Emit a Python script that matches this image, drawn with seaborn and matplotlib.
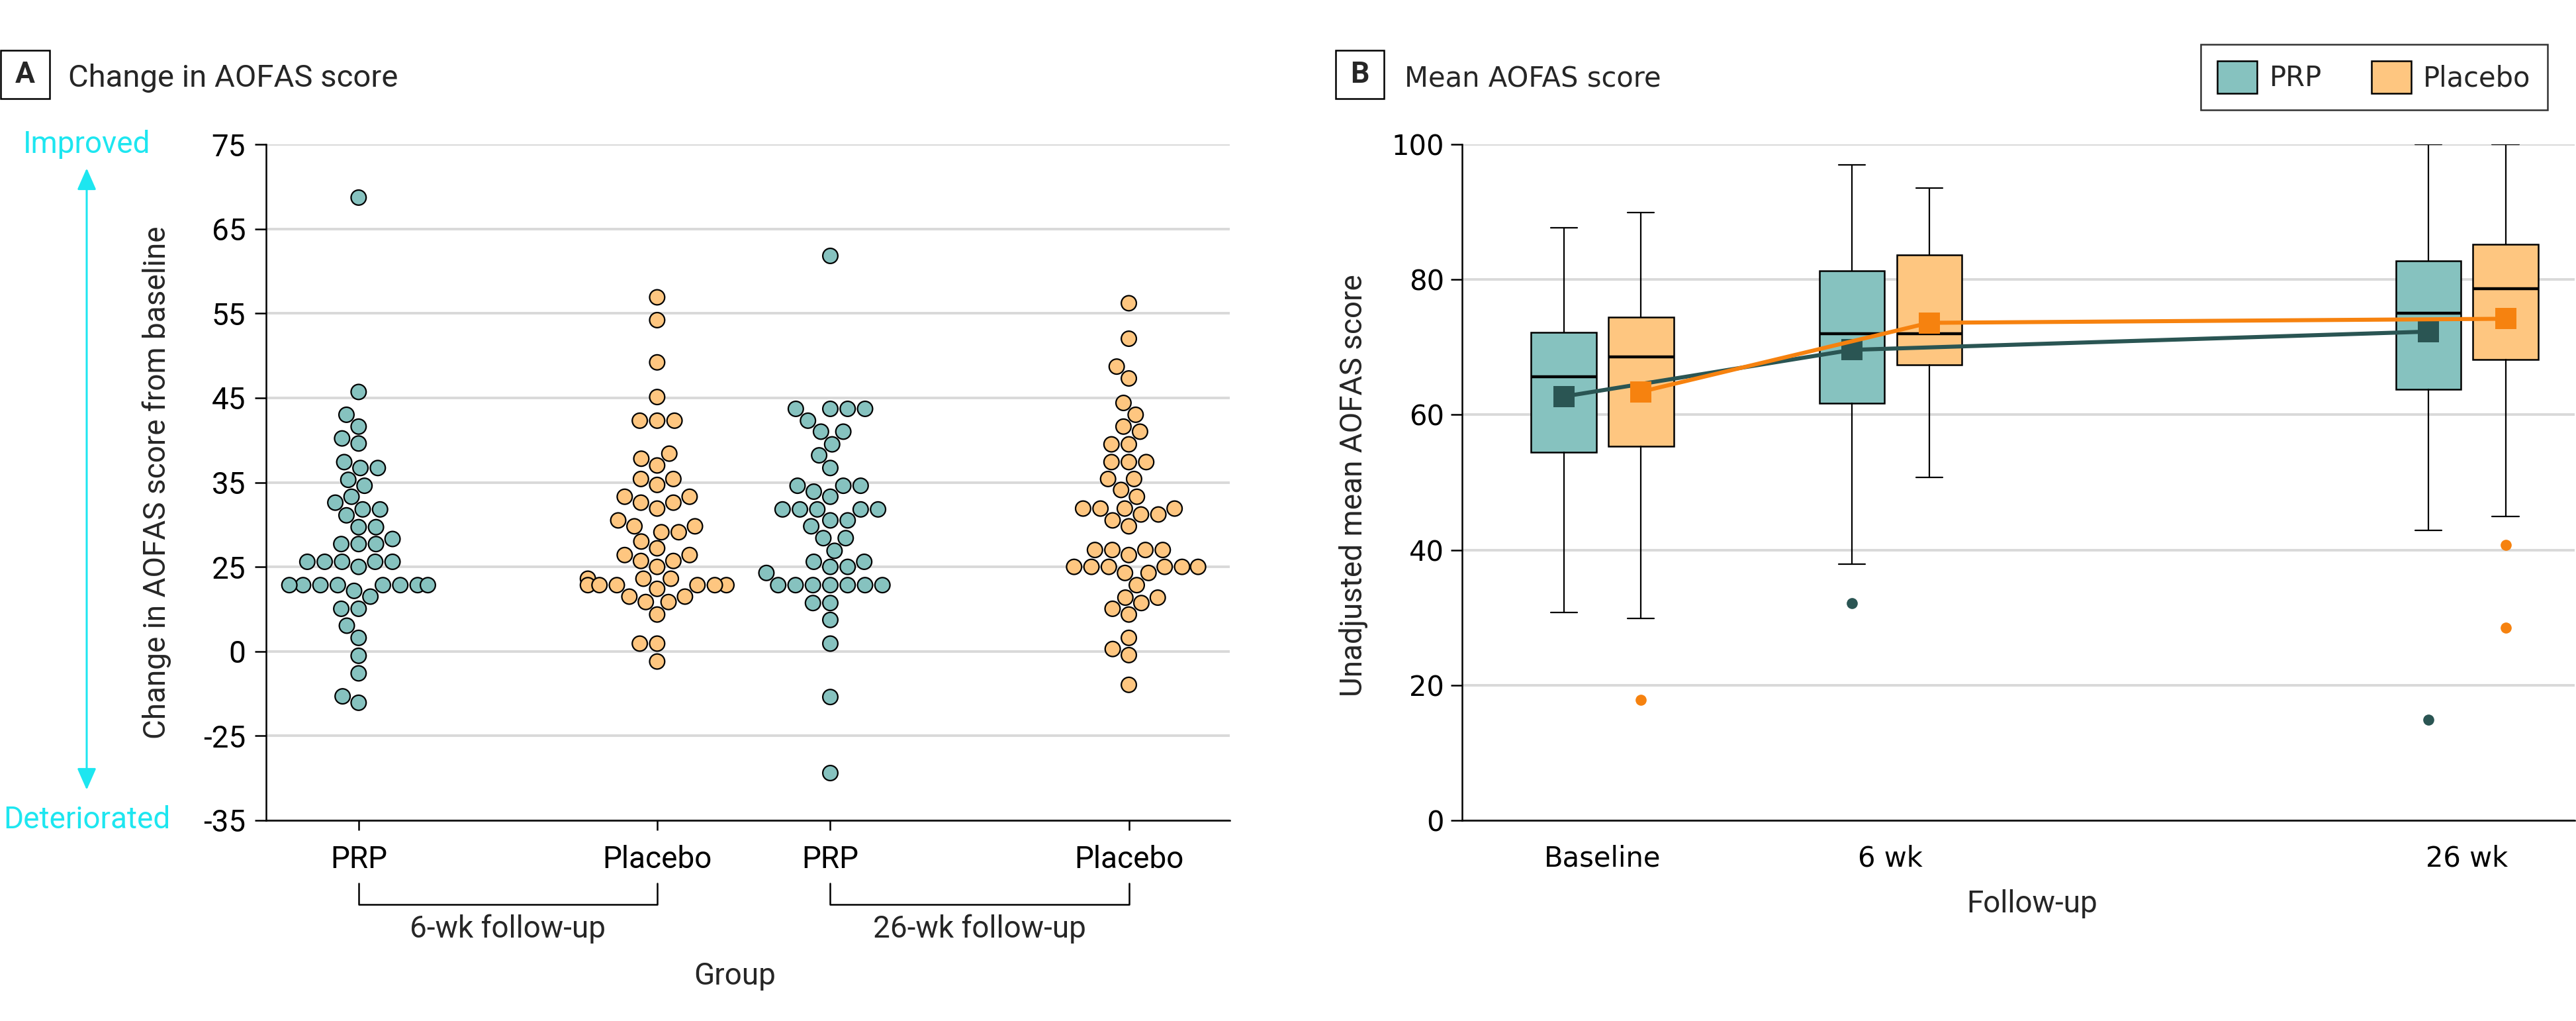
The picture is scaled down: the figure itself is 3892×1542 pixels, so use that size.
import numpy as np
import pandas as pd
import matplotlib
matplotlib.use("Agg")
import matplotlib.pyplot as plt
import matplotlib.transforms as mtransforms
from matplotlib.patches import Patch, Rectangle, FancyArrowPatch
import seaborn as sns

# ---------------- Panel A data (change in AOFAS score) ----------------
groups_a = ["PRP", "Placebo", "PRP", "Placebo"]
xpos_a = [0.0, 1.0, 1.58, 2.58]
followups_a = ["6-wk follow-up", "26-wk follow-up"]
ytick_vals_a = [-35, -25, 0, 25, 35, 45, 55, 65, 75]

chg_prp_6wk = [68.7, 45.7, 43.0, 41.6, 40.2, 39.6, 37.4, 36.7, 36.7, 35.3, 34.6,
               33.3, 32.6, 31.8, 31.8, 31.1, 29.7, 29.7, 28.3, 27.7, 27.7, 27.7,
               25.6, 25.6, 25.6, 25.6, 25.6, 25.0,
               19.6, 19.6, 19.6, 19.6, 19.6, 19.6, 19.6, 19.6,
               17.9, 16.2, 12.6, 12.6, 7.6, 4.0, -1.3, -6.5, -13.3, -15.2]
chg_plc_6wk = [56.9, 54.2, 49.2, 45.1, 42.3, 42.3, 42.3, 38.4, 37.8, 37.0,
               35.4, 35.4, 34.7, 33.3, 33.3, 32.6, 32.6, 31.9, 30.5, 29.8, 29.8,
               29.1, 29.1, 28.0, 27.2, 26.4, 26.4, 25.7, 25.7, 25.0,
               21.5, 21.5, 21.5, 19.6, 19.6, 19.6, 19.6, 19.6, 19.6, 18.5,
               16.2, 16.2, 14.6, 14.6, 10.9, 2.3, 2.3, -3.0]
chg_prp_26wk = [61.8, 43.7, 43.7, 43.7, 43.7, 42.3, 41.0, 41.0, 39.5, 38.2, 36.7,
                34.6, 34.6, 34.6, 33.9, 33.3, 31.8, 31.8, 31.8, 31.8, 31.8,
                30.5, 30.5, 29.8, 28.4, 28.4, 26.9, 25.6, 25.6, 25.0, 25.0, 23.2,
                19.6, 19.6, 19.6, 19.6, 19.6, 19.6, 19.6,
                14.3, 14.3, 9.3, 2.3, -13.5, -29.4]
chg_plc_26wk = [56.2, 52.0, 48.7, 47.3, 44.4, 43.0, 41.6, 41.0, 39.5, 39.5,
                37.4, 37.4, 37.4, 35.4, 35.4, 34.1, 33.3, 31.9, 31.9, 31.9, 31.9,
                31.2, 31.2, 30.5, 29.8, 27.0, 27.0, 27.0, 27.0, 26.4,
                25.0, 25.0, 25.0, 25.0, 25.0, 25.0, 23.2, 23.2, 19.6,
                15.9, 15.9, 14.3, 12.6, 10.9, 4.0, 0.7, -1.1, -9.9]

# ---------------- Panel B data (box plot summaries) ----------------
timepoints = ["Baseline", "6 wk", "26 wk"]
tpos = [0, 1, 3]
prp_whislo = [30.8, 37.9, 42.9]
prp_q1 = [54.5, 61.7, 63.8]
prp_med = [65.6, 72.0, 75.0]
prp_q3 = [72.2, 81.3, 82.8]
prp_whishi = [87.7, 97.0, 100.0]
prp_mean = [62.7, 69.6, 72.3]
prp_fliers = [[], [32.1], [14.9]]

plc_whislo = [29.9, 50.7, 45.0]
plc_q1 = [55.3, 67.4, 68.2]
plc_med = [68.6, 72.0, 78.6]
plc_q3 = [74.4, 83.6, 85.2]
plc_whishi = [89.9, 93.5, 100.0]
plc_mean = [63.4, 73.6, 74.2]
plc_fliers = [[17.8], [], [40.7, 28.5]]

# ---------------- style ----------------
TEAL = "#86C2BF"
ORANGE = "#FEC680"
DARK_TEAL = "#2A5553"
DARK_ORANGE = "#F6820F"
CYAN = "#1DE6F0"
GRID = "#D9D9D9"
MAIN_FONT = ["Roboto", "DejaVu Sans"]
ALT_FONT = ["DejaVu Sans"]

sns.set_style("white")
plt.rcParams["font.family"] = MAIN_FONT

W, H = 3892, 1542
DPI = 200
fig = plt.figure(figsize=(W / DPI, H / DPI), dpi=DPI)


def fx(px):
    return px / W


def fy(py):
    return 1 - py / H


axA = fig.add_axes([fx(402), fy(1239), fx(1858) - fx(402), fy(218) - fy(1239)])
axB = fig.add_axes([fx(2209), fy(1239), fx(3890) - fx(2209), fy(218) - fy(1239)])

# piecewise-linear y scale matching the original labels
_kv = np.array([-35.0, -25.0, 0.0, 25.0, 75.0])
_kp = np.array([0.0, 1.0, 2.0, 3.0, 8.0])


def fwd(v):
    v = np.asarray(v, dtype=float)
    p = np.interp(v, _kv, _kp)
    p = np.where(v < -35, (v + 35) / 10.0, p)
    p = np.where(v > 75, 8 + (v - 75) / 10.0, p)
    return p


def inv(p):
    p = np.asarray(p, dtype=float)
    v = np.interp(p, _kp, _kv)
    v = np.where(p < 0, -35 + p * 10.0, v)
    v = np.where(p > 8, 75 + (p - 8) * 10.0, v)
    return v


# ---------------- Panel A ----------------
rows = []
for x, g, vals in zip(xpos_a, groups_a, [chg_prp_6wk, chg_plc_6wk, chg_prp_26wk, chg_plc_26wk]):
    for v in vals:
        rows.append((x, g, v))
df_a = pd.DataFrame(rows, columns=["pos", "group", "change"])

axA.set_yscale("function", functions=(fwd, inv))
sns.swarmplot(data=df_a, x="pos", y="change", hue="group", native_scale=True, orient="x",
              palette={"PRP": TEAL, "Placebo": ORANGE}, size=8.2, edgecolor="black",
              linewidth=0.8, legend=False, ax=axA, zorder=3)
axA.set_ylim(-35, 75)
axA.set_xlim(-0.31, 2.918)
axA.set_yticks(ytick_vals_a)
axA.set_yticklabels([str(v) for v in ytick_vals_a])
axA.yaxis.set_minor_locator(matplotlib.ticker.NullLocator())
axA.set_xticks(xpos_a)
axA.set_xticklabels(groups_a)
axA.set_xlabel("")
axA.set_ylabel("")
axA.yaxis.grid(True, color=GRID, lw=1.4)
axA.xaxis.grid(False)
axA.set_axisbelow(True)
for s in ["top", "right"]:
    axA.spines[s].set_visible(False)
for s in ["left", "bottom"]:
    axA.spines[s].set_color("black")
    axA.spines[s].set_linewidth(0.9)
axA.tick_params(axis="y", left=True, length=6.1, width=0.9, pad=5, labelsize=16.5, colors="black")
axA.tick_params(axis="x", bottom=True, length=5.4, width=0.9, pad=8, labelsize=16.5, colors="black")

# brackets under the groups
trA = mtransforms.blended_transform_factory(axA.transData, fig.transFigure)
for i, lab in enumerate(followups_a):
    xa, xb = xpos_a[2 * i], xpos_a[2 * i + 1]
    axA.plot([xa, xa, xb, xb], [fy(1334), fy(1366), fy(1366), fy(1334)], transform=trA,
             color="black", lw=0.9, clip_on=False)
    axA.text((xa + xb) / 2, fy(1403), lab, transform=trA, ha="center", va="center",
             fontsize=16.5)
fig.text(fx(1110), fy(1474), "Group", ha="center", va="center", fontsize=16.5)
fig.text(fx(237), fy(729), "Change in AOFAS score from baseline", rotation=90,
         ha="center", va="center", fontsize=16.5)

# improved / deteriorated
fig.text(fx(131), fy(218), "Improved", color=CYAN, ha="center", va="center", fontsize=16.5)
fig.text(fx(131), fy(1238), "Deteriorated", color=CYAN, ha="center", va="center", fontsize=16.5)
arr = FancyArrowPatch(posA=(fx(131), fy(254)), posB=(fx(131), fy(1193)), transform=fig.transFigure,
                      arrowstyle="<|-|>,head_length=0.5,head_width=0.22", mutation_scale=20,
                      color=CYAN, lw=1.1, shrinkA=0, shrinkB=0)
fig.add_artist(arr)

# panel label A
fig.add_artist(Rectangle((fx(1), fy(149)), fx(74), fy(76) - fy(149), transform=fig.transFigure,
                         fill=False, ec="black", lw=0.9))
fig.text(fx(38), fy(113), "A", ha="center", va="center", fontsize=16, fontweight="bold")
fig.text(fx(103), fy(131), "Change in AOFAS score", ha="left", va="baseline", fontsize=17)

# ---------------- Panel B ----------------
OFF = 0.134
BW = 0.226


def make_stats(lo, q1, med, q3, hi, fl):
    return [dict(whislo=a, q1=b, med=c, q3=d, whishi=e, fliers=f)
            for a, b, c, d, e, f in zip(lo, q1, med, q3, hi, fl)]


for stats, off, fc, dc in [
    (make_stats(prp_whislo, prp_q1, prp_med, prp_q3, prp_whishi, prp_fliers), -OFF, TEAL, DARK_TEAL),
    (make_stats(plc_whislo, plc_q1, plc_med, plc_q3, plc_whishi, plc_fliers), OFF, ORANGE, DARK_ORANGE),
]:
    axB.bxp(stats, positions=[t + off for t in tpos], widths=BW, patch_artist=True,
            showfliers=True, manage_ticks=False, capwidths=0.092,
            boxprops=dict(facecolor=fc, edgecolor="black", lw=0.9),
            medianprops=dict(color="black", lw=1.6),
            whiskerprops=dict(color="black", lw=0.8),
            capprops=dict(color="black", lw=0.8),
            flierprops=dict(marker="o", markerfacecolor=dc, markeredgecolor="none", markersize=6))

df_b = pd.DataFrame({
    "pos": [t - OFF for t in tpos] + [t + OFF for t in tpos],
    "mean": prp_mean + plc_mean,
    "group": ["PRP"] * 3 + ["Placebo"] * 3,
})
sns.lineplot(data=df_b, x="pos", y="mean", hue="group", hue_order=["PRP", "Placebo"],
             palette={"PRP": DARK_TEAL, "Placebo": DARK_ORANGE}, marker="s", markersize=11.5,
             markeredgecolor="none", lw=2.2, legend=False, ax=axB, zorder=5)

axB.set_xlim(-0.487, 3.374)
axB.set_ylim(0, 100)
axB.set_yticks([0, 20, 40, 60, 80, 100])
axB.set_xticks(tpos)
axB.set_xticklabels(timepoints, fontfamily=ALT_FONT)
for lab in axB.get_yticklabels():
    lab.set_fontfamily(ALT_FONT)
axB.set_xlabel("")
axB.set_ylabel("")
axB.yaxis.grid(True, color=GRID, lw=1.4)
axB.xaxis.grid(False)
axB.set_axisbelow(True)
for s in ["top", "right"]:
    axB.spines[s].set_visible(False)
for s in ["left", "bottom"]:
    axB.spines[s].set_color("black")
    axB.spines[s].set_linewidth(0.9)
axB.tick_params(axis="y", left=True, length=6.1, width=0.9, pad=3.6, labelsize=15, colors="black")
axB.tick_params(axis="x", bottom=False, length=0, pad=13, labelsize=15, colors="black")

fig.text(fx(2045), fy(733), "Unadjusted mean AOFAS score", rotation=90, ha="center",
         va="center", fontsize=16.5)
fig.text(fx(3070), fy(1365), "Follow-up", ha="center", va="center", fontsize=16.5)

fig.add_artist(Rectangle((fx(2018), fy(149)), fx(73), fy(76) - fy(149), transform=fig.transFigure,
                         fill=False, ec="black", lw=0.9))
fig.text(fx(2054.5), fy(113), "B", ha="center", va="center", fontsize=16, fontweight="bold")
fig.text(fx(2122), fy(132), "Mean AOFAS score", ha="left", va="baseline", fontsize=15,
         fontfamily=ALT_FONT)

leg = fig.legend(handles=[Patch(facecolor=TEAL, edgecolor="black", lw=0.9),
                          Patch(facecolor=ORANGE, edgecolor="black", lw=0.9)],
                 labels=["PRP", "Placebo"], ncol=2, loc="center",
                 bbox_to_anchor=(fx(3587), fy(116.5)), frameon=True, fancybox=False,
                 edgecolor="black", handlelength=1.43, handleheight=1.43, handletextpad=0.45,
                 columnspacing=1.8, borderpad=0.6, prop={"family": ALT_FONT, "size": 15})
leg.get_frame().set_linewidth(0.9)

fig.savefig("out.png", dpi=DPI)
